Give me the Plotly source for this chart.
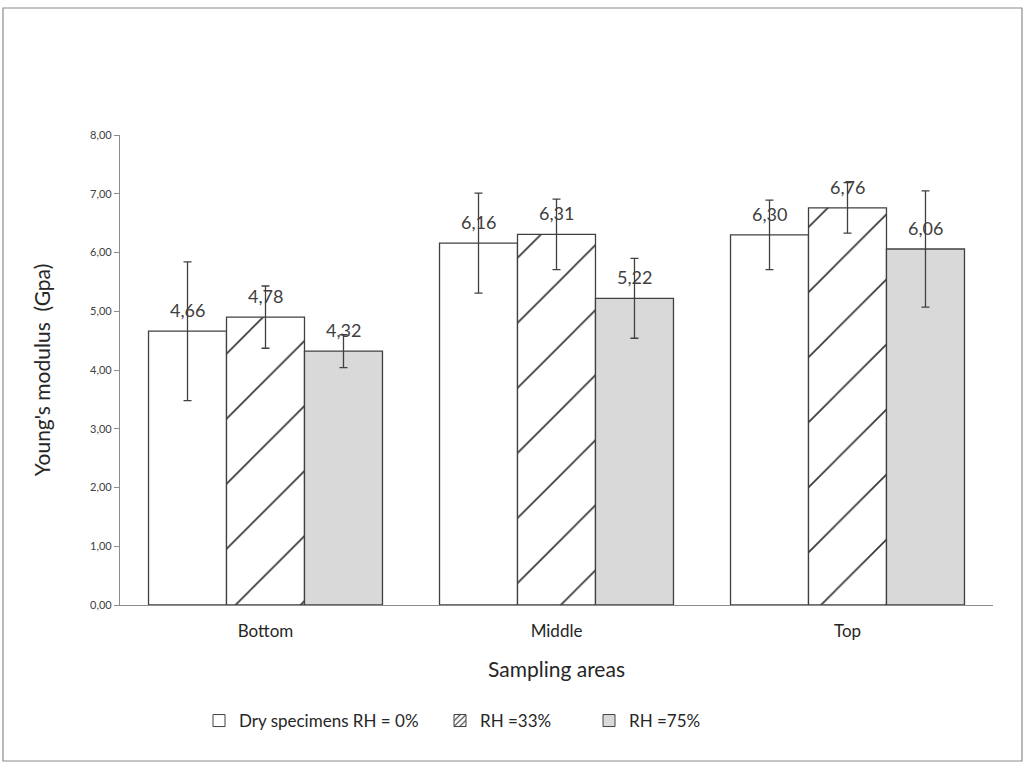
import plotly.graph_objects as go

categories = ["Bottom", "Middle", "Top"]

# bar heights as drawn (the 33% "Bottom" bar is drawn taller than its label)
dry = [4.66, 6.16, 6.30]
rh33 = [4.90, 6.31, 6.76]
rh75 = [4.32, 5.22, 6.06]

dry_err = [1.18, 0.85, 0.59]
rh33_err = [0.53, 0.60, 0.43]
rh75_err = [0.28, 0.68, 0.99]

dry_lbl = ["4,66", "6,16", "6,30"]
rh33_lbl = ["4,78", "6,31", "6,76"]
rh75_lbl = ["4,32", "5,22", "6,06"]

FONT = "Lato"
EDGE = "#404040"
W, H = 1026, 762
L, R, T, B = 120, 33, 135, 157
PW, PH = W - L - R, H - T - B

series = [
    ("Dry specimens RH = 0%", dry, dry_err, dry_lbl, "white", ""),
    ("RH =33%", rh33, rh33_err, rh33_lbl, "white", "/"),
    ("RH =75%", rh75, rh75_err, rh75_lbl, "#d9d9d9", ""),
]
legend_px = [199, 440, 589]   # left edge of each legend box, in pixels

fig = go.Figure()
for i, (name, vals, err, lbl, col, pat) in enumerate(series):
    fig.add_trace(go.Bar(
        name=name, x=categories, y=vals, showlegend=False,
        marker=dict(color=col, line=dict(color=EDGE, width=1.3),
                    pattern=dict(shape=pat, fgcolor="#333333", fgopacity=1,
                                 bgcolor="white", size=46, solidity=0.035)),
        error_y=dict(type="data", array=err, visible=True,
                     color=EDGE, thickness=1.3, width=4),
    ))
    # legend entry with a finer hatch, kept on a hidden overlay axis
    lg = "legend" if i == 0 else f"legend{i + 1}"
    fig.add_trace(go.Bar(
        name=name, x=[None], y=[None], xaxis="x2", yaxis="y2", legend=lg,
        marker=dict(color=col, line=dict(color=EDGE, width=1),
                    pattern=dict(shape=pat, fgcolor="#262626", fgopacity=1,
                                 bgcolor="white", size=5, solidity=0.25)),
    ))

# value labels above bars
bar_px = PW / 3 * (1 - 0.196) / 3
for i, (name, vals, err, lbl, col, pat) in enumerate(series):
    for c, v, t in zip(categories, vals, lbl):
        fig.add_annotation(x=c, y=v, text=t, showarrow=False,
                           xshift=(i - 1) * bar_px, yshift=8, yanchor="bottom",
                           font=dict(size=18, color="#404040", family=FONT))

# outer frame of the picture
fig.add_shape(type="rect", xref="paper", yref="paper",
              x0=(3 - L) / PW, x1=(1022 - L) / PW,
              y0=(H - B - 761) / PH, y1=(H - B - 8) / PH,
              line=dict(color="#8c8c8c", width=1.2), fillcolor="rgba(0,0,0,0)",
              layer="below")

leg_y = (H - B - 721) / PH
leg_common = dict(orientation="h", yanchor="middle", y=leg_y, xanchor="left",
                  font=dict(size=17, family=FONT, color="#262626"),
                  itemwidth=30, bgcolor="rgba(0,0,0,0)")

fig.update_layout(
    width=W, height=H,
    margin=dict(l=L, r=R, t=T, b=B),
    paper_bgcolor="white", plot_bgcolor="white",
    barmode="group", bargap=0.196, bargroupgap=0,
    separators=", ",
    font=dict(family=FONT, color="#262626"),
    legend=dict(x=(legend_px[0] - L) / PW, **leg_common),
    legend2=dict(x=(legend_px[1] - L) / PW, **leg_common),
    legend3=dict(x=(legend_px[2] - L) / PW, **leg_common),
    xaxis=dict(showline=True, linecolor="#8c8c8c", linewidth=1.2, ticks="",
               ticklabelstandoff=10,
               tickfont=dict(size=17, family=FONT, color="#262626"),
               title=dict(text="Sampling areas", font=dict(size=21, family=FONT, color="#262626"),
                          standoff=22)),
    yaxis=dict(range=[0, 8], dtick=1, tickformat=".2f", showgrid=False, zeroline=False,
               showline=True, linecolor="#8c8c8c", linewidth=1.2,
               ticks="outside", ticklen=5, tickcolor="#8c8c8c",
               tickfont=dict(size=11, family=FONT, color="#404040"),
               title=dict(text="Young's modulus  (Gpa)", font=dict(size=21, family=FONT, color="#262626"),
                          standoff=33)),
    xaxis2=dict(overlaying="x", visible=False),
    yaxis2=dict(overlaying="y", visible=False, range=[0, 1]),
)

fig.write_html("out.html", config={"displayModeBar": False},
               post_script="document.body.style.margin='0';")
